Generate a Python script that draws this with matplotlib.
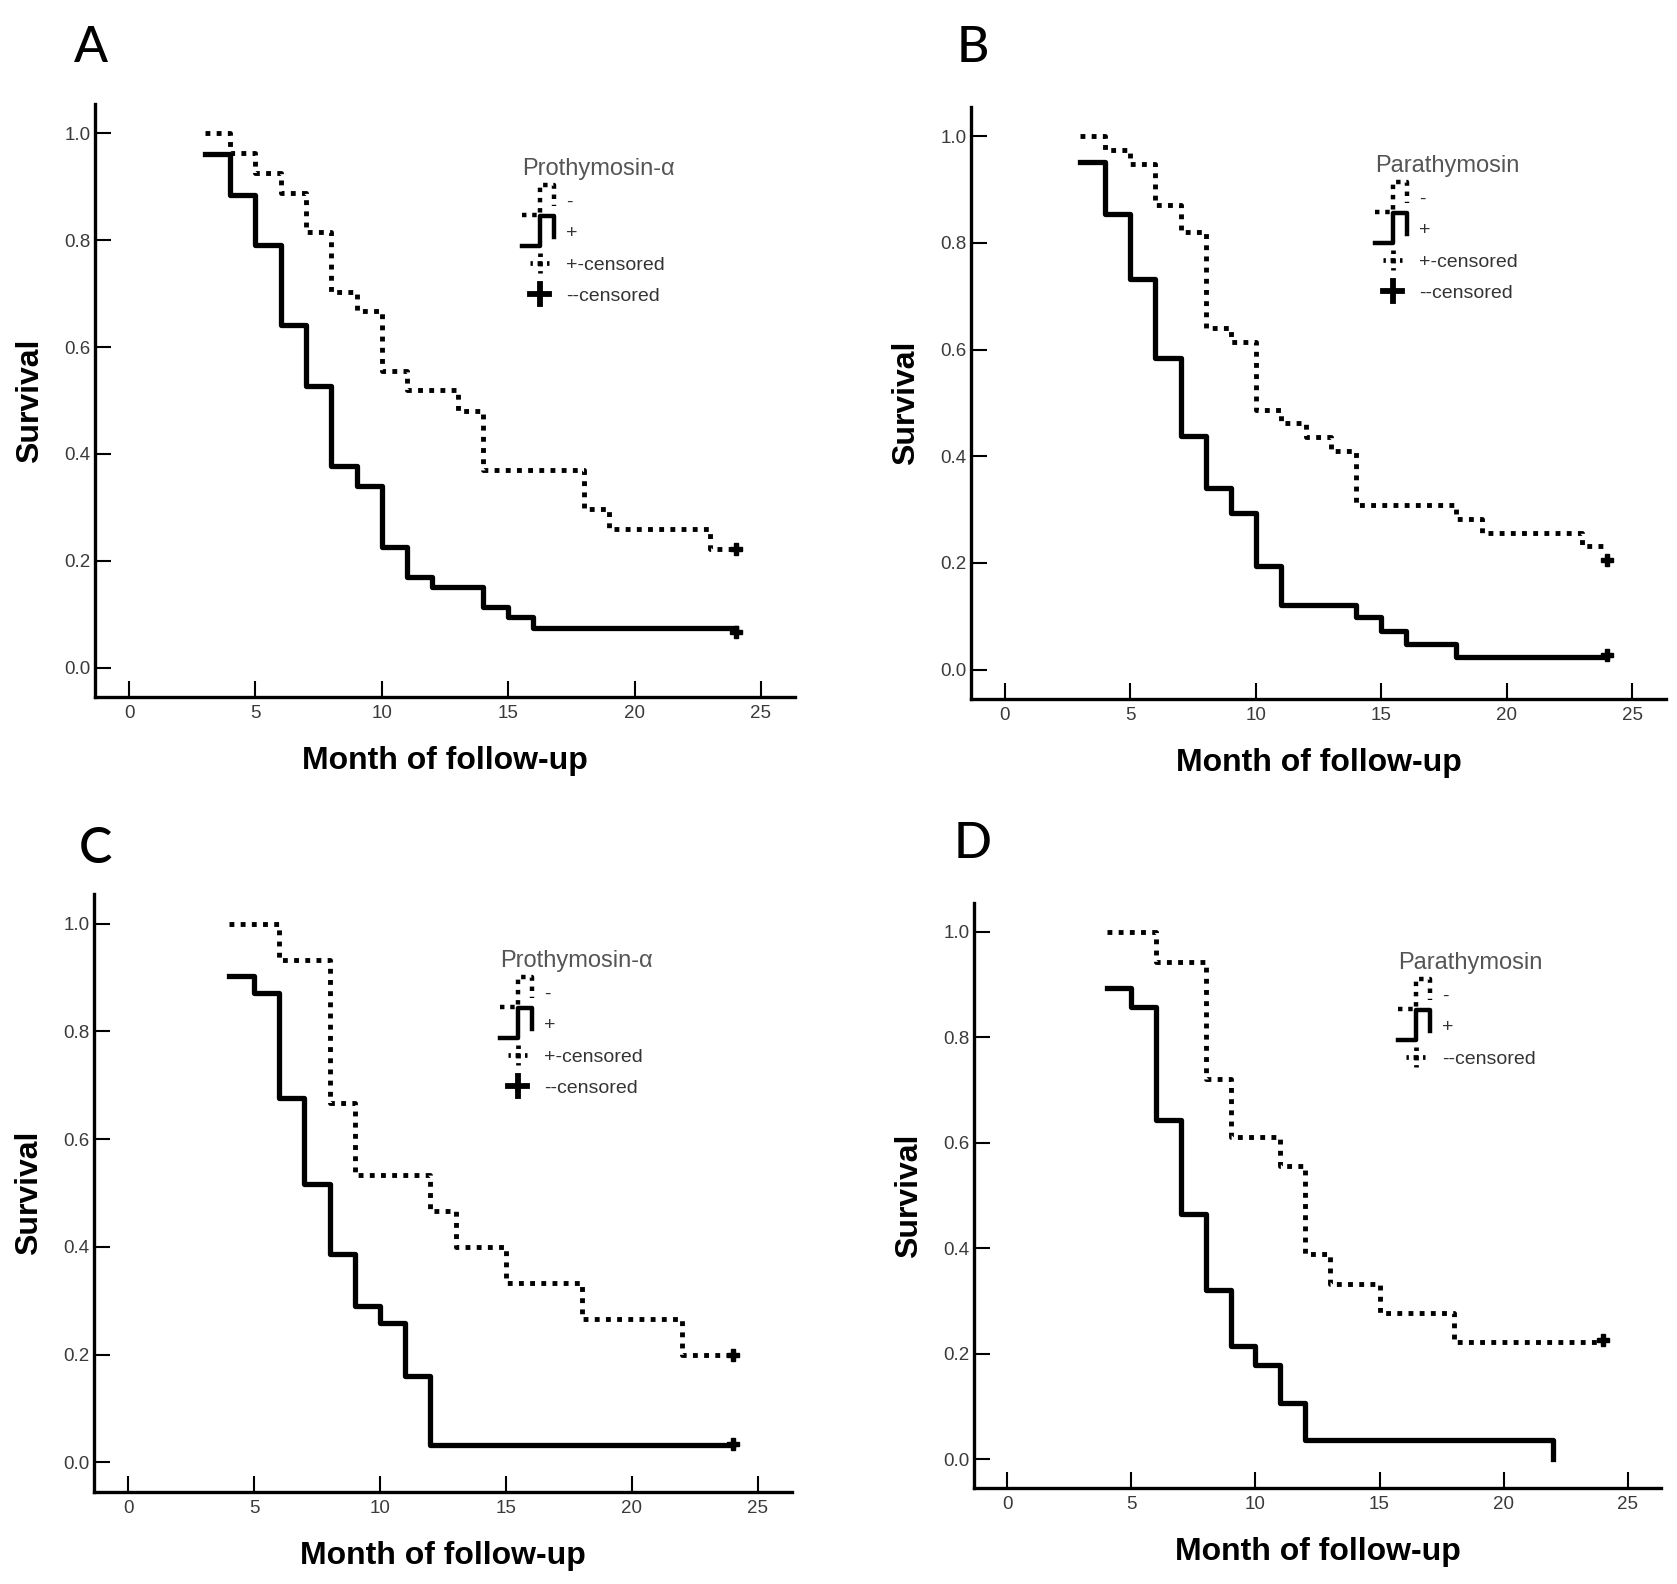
import numpy as np
import matplotlib
matplotlib.use('Agg')
import matplotlib.pyplot as plt
from matplotlib.lines import Line2D
from matplotlib.legend_handler import HandlerBase

plt.rcParams['font.family'] = ['Liberation Sans', 'DejaVu Sans']

# survival step data (time in months, survival fraction)
# A: Prothymosin-alpha
a_neg_t = [3, 4, 5, 6, 7, 8, 9, 10, 11, 13, 14, 18, 19, 23, 24]
a_neg_s = [1.0, 0.963, 0.926, 0.889, 0.815, 0.704, 0.667, 0.556, 0.519, 0.481, 0.370, 0.296, 0.259, 0.222, 0.222]
a_pos_t = [3, 4, 5, 6, 7, 8, 9, 10, 11, 12, 14, 15, 16, 24]
a_pos_s = [0.962, 0.885, 0.792, 0.642, 0.528, 0.377, 0.340, 0.226, 0.170, 0.151, 0.113, 0.094, 0.075, 0.075]
a_cens_x = [24, 24]
a_cens_y = [0.222, 0.066]

# B: Parathymosin
b_neg_t = [3, 4, 5, 6, 7, 8, 9, 10, 11, 12, 13, 14, 18, 19, 23, 24]
b_neg_s = [1.0, 0.974, 0.949, 0.872, 0.821, 0.641, 0.615, 0.487, 0.462, 0.436, 0.410, 0.308, 0.282, 0.256, 0.231, 0.231]
b_pos_t = [3, 4, 5, 6, 7, 8, 9, 10, 11, 14, 15, 16, 18, 24]
b_pos_s = [0.951, 0.854, 0.732, 0.585, 0.439, 0.341, 0.293, 0.195, 0.122, 0.098, 0.073, 0.049, 0.024, 0.024]
b_cens_x = [24, 24]
b_cens_y = [0.205, 0.028]

# C: Prothymosin-alpha
c_neg_t = [4, 6, 8, 9, 12, 13, 15, 18, 22, 24]
c_neg_s = [1.0, 0.933, 0.667, 0.533, 0.467, 0.400, 0.333, 0.267, 0.200, 0.200]
c_pos_t = [4, 5, 6, 7, 8, 9, 10, 11, 12, 24]
c_pos_s = [0.903, 0.871, 0.677, 0.516, 0.387, 0.290, 0.258, 0.161, 0.032, 0.032]
c_cens_x = [24, 24]
c_cens_y = [0.200, 0.035]

# D: Parathymosin
d_neg_t = [4, 6, 8, 9, 11, 12, 13, 15, 18, 24]
d_neg_s = [1.0, 0.944, 0.722, 0.611, 0.556, 0.389, 0.333, 0.278, 0.222, 0.222]
d_pos_t = [4, 5, 6, 7, 8, 9, 10, 11, 12, 22]
d_pos_s = [0.893, 0.857, 0.643, 0.464, 0.321, 0.214, 0.179, 0.107, 0.036, 0.0]
d_cens_x = [24]
d_cens_y = [0.225]

x_ticks = [0, 5, 10, 15, 20, 25]
y_ticks = [0.0, 0.2, 0.4, 0.6, 0.8, 1.0]

W, H = 1677, 1584
DOT = (0, (1.0, 1.3))


class StepHandler(HandlerBase):
    def create_artists(self, legend, orig_handle, xdescent, ydescent,
                       width, height, fontsize, trans):
        xs = -xdescent + width * np.array([0.0, 0.5, 0.5, 0.9, 0.9])
        ys = -ydescent + height * np.array([-0.4, -0.4, 1.45, 1.45, 0.15])
        ln = Line2D(xs, ys)
        ln.update_from(orig_handle)
        ln.set_transform(trans)
        return [ln]


class CrossHandler(HandlerBase):
    def create_artists(self, legend, orig_handle, xdescent, ydescent,
                       width, height, fontsize, trans, ):
        cx = -xdescent + width * 0.5
        cy = -ydescent + height * 0.5
        r = height * 0.6
        h = Line2D([cx - r, cx + r], [cy, cy])
        v = Line2D([cx, cx], [cy - r, cy + r])
        for ln in (h, v):
            ln.update_from(orig_handle)
            ln.set_transform(trans)
        return [h, v]


def km_panel(ax, neg_t, neg_s, pos_t, pos_s, cens_x, cens_y, title, labels, leg_xy):
    ax.step(neg_t, neg_s, where='post', color='black', lw=3.5, linestyle=DOT)
    ax.step(pos_t, pos_s, where='post', color='black', lw=3.8)
    ax.plot(cens_x, cens_y, linestyle='none', marker='P', markersize=9,
            color='black')

    ax.set_xlim(-1.35, 26.35)
    ax.set_ylim(-0.055, 1.055)
    ax.set_xticks(x_ticks)
    ax.set_yticks(y_ticks)
    ax.set_yticklabels(['%.1f' % v for v in y_ticks])
    ax.tick_params(direction='in', length=11.5, width=1.5, labelsize=13.5,
                   labelcolor='#3a3a3a')
    ax.tick_params(axis='y', pad=3)
    ax.tick_params(axis='x', pad=6)
    for s in ['top', 'right']:
        ax.spines[s].set_visible(False)
    for s in ['left', 'bottom']:
        ax.spines[s].set_linewidth(2.4)

    bb = ax.get_position()
    wpx = bb.width * W
    hpx = bb.height * H
    ax.set_ylabel('Survival', fontsize=23, fontweight='bold', va='center')
    ax.yaxis.set_label_coords(-65 / wpx, 0.5)
    ax.set_xlabel('Month of follow-up', fontsize=23, fontweight='bold', va='center')
    ax.xaxis.set_label_coords(0.5, -64 / hpx)

    h_neg = Line2D([], [], color='black', lw=3.2, linestyle=DOT)
    h_pos = Line2D([], [], color='black', lw=3.2)
    h_cd = Line2D([], [], color='black', lw=3.4, linestyle=(0.5, (1.0, 1.0)))
    h_cs = Line2D([], [], color='black', lw=4.2)
    kinds = {'neg': (h_neg, StepHandler()), 'pos': (h_pos, StepHandler()),
             'cdot': (h_cd, CrossHandler()), 'csol': (h_cs, CrossHandler())}
    handles, texts, hmap = [], [], {}
    for kind, text in labels:
        hd, hl = kinds[kind]
        handles.append(hd)
        texts.append(text)
        hmap[hd] = hl
    leg = ax.legend(handles, texts, handler_map=hmap, title=title,
                    loc='upper left', bbox_to_anchor=(leg_xy[0] / W, 1 - leg_xy[1] / H),
                    bbox_transform=ax.figure.transFigure, frameon=False,
                    borderpad=0, borderaxespad=0, fontsize=14,
                    handlelength=1.8, handleheight=0.9, handletextpad=0.45,
                    labelspacing=0.64, alignment='left',
                    title_fontproperties={'size': 17})
    leg.get_title().set_color('#555555')
    for t in leg.get_texts():
        t.set_color('#333333')


fig = plt.figure(figsize=(W / 100, H / 100), dpi=100)

# axes rectangles in pixels: left, right, top, bottom of the spines
rects = [(95, 795, 104, 697), (971, 1666, 107, 699),
         (94, 792, 894, 1492), (974, 1661, 903, 1488)]
axes = []
for l, r, t, b in rects:
    axes.append(fig.add_axes([l / W, 1 - b / H, (r - l) / W, (b - t) / H]))

lab4 = [('neg', '-'), ('pos', '+'), ('cdot', '+-censored'), ('csol', '--censored')]
lab3 = [('neg', '-'), ('pos', '+'), ('cdot', '--censored')]

km_panel(axes[0], a_neg_t, a_neg_s, a_pos_t, a_pos_s, a_cens_x, a_cens_y,
         'Prothymosin-α', lab4, (522, 158))
km_panel(axes[1], b_neg_t, b_neg_s, b_pos_t, b_pos_s, b_cens_x, b_cens_y,
         'Parathymosin', lab4, (1375, 155))
km_panel(axes[2], c_neg_t, c_neg_s, c_pos_t, c_pos_s, c_cens_x, c_cens_y,
         'Prothymosin-α', lab4, (500, 950))
km_panel(axes[3], d_neg_t, d_neg_s, d_pos_t, d_pos_s, d_cens_x, d_cens_y,
         'Parathymosin', lab3, (1398, 952))

for letter, (x, y) in zip('ABCD', [(91, 48), (973, 48), (95, 849), (973, 844)]):
    fig.text(x / W, 1 - y / H, letter, ha='center', va='center', fontsize=36,
             family=['Lato', 'DejaVu Sans'], fontweight='medium')

fig.savefig('out.png', dpi=100)
